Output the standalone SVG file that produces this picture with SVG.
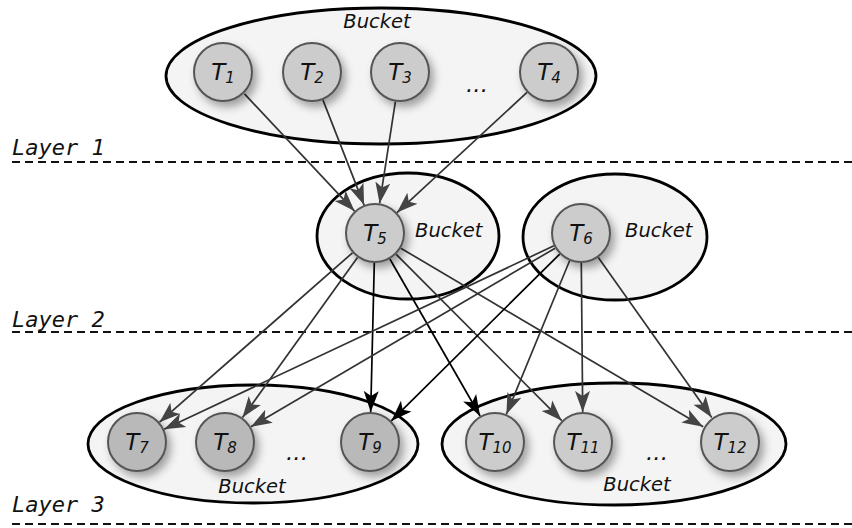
<svg xmlns="http://www.w3.org/2000/svg" width="852" height="528" viewBox="0 0 852 528">
  <style>
    .bucket { fill: #f4f4f4; stroke: #000; stroke-width: 2.8; }
    .node circle { fill: #cccccc; stroke: #555; stroke-width: 2; filter: url(#shadow); }
    .node.dark circle { fill: #b9b9b9; }
    .lbl { font-family: "DejaVu Sans", "Liberation Sans", sans-serif; font-style: italic; fill: #111; }
    .tl { font-size: 23px; text-anchor: middle; }
    .sub { font-size: 15px; }
    .bk { font-size: 19.5px; }
    .dots { font-size: 23px; }
    .layer { font-family: "DejaVu Sans Mono", "Liberation Mono", monospace; font-style: italic; font-size: 22px; fill: #111; }
    .sep { stroke: #111; stroke-width: 2; stroke-dasharray: 8 5; }
    .edge { stroke: #333; stroke-width: 1.7; fill: none; marker-end: url(#arrow); }
    .edge.strong { stroke: #000; marker-end: url(#arrowBlack); }
  </style>
  <defs>
    <filter id="shadow" x="-50%" y="-50%" width="200%" height="200%">
      <feDropShadow dx="4" dy="5" stdDeviation="4" flood-color="#000" flood-opacity="0.35"/>
    </filter>
    <marker id="arrow" markerUnits="userSpaceOnUse" markerWidth="22" markerHeight="18" refX="21" refY="9" orient="auto">
      <path d="M0,1.5 L21,9 L0,16.5 L5,9 Z" fill="#444"/>
    </marker>
    <marker id="arrowBlack" markerUnits="userSpaceOnUse" markerWidth="22" markerHeight="18" refX="21" refY="9" orient="auto">
      <path d="M0,1.5 L21,9 L0,16.5 L5,9 Z" fill="#000"/>
    </marker>
  </defs>

  <rect width="852" height="528" fill="#fff"/>

  <!-- layer separators -->
  <g id="layers">
    <text class="layer" x="12" y="155">Layer 1</text>
    <line class="sep" x1="12" y1="162" x2="852" y2="162"/>
    <text class="layer" x="12" y="327">Layer 2</text>
    <line class="sep" x1="12" y1="332" x2="852" y2="332"/>
    <text class="layer" x="12" y="512">Layer 3</text>
    <line class="sep" x1="12" y1="524" x2="852" y2="524"/>
  </g>

  <!-- buckets -->
  <g id="bucket-top">
    <ellipse class="bucket" cx="381" cy="76" rx="215" ry="68"/>
    <text class="lbl bk" x="377" y="28" text-anchor="middle">Bucket</text>
    <text class="lbl dots" x="477" y="92" text-anchor="middle">...</text>
  </g>
  <g id="bucket-t5">
    <ellipse class="bucket" cx="408" cy="236" rx="91" ry="63"/>
    <text class="lbl bk" x="415" y="237">Bucket</text>
  </g>
  <g id="bucket-t6">
    <ellipse class="bucket" cx="615" cy="237" rx="92" ry="63"/>
    <text class="lbl bk" x="625" y="237">Bucket</text>
  </g>
  <g id="bucket-left">
    <ellipse class="bucket" cx="253" cy="444" rx="165" ry="59"/>
    <text class="lbl bk" x="252" y="493" text-anchor="middle">Bucket</text>
    <text class="lbl dots" x="297" y="460" text-anchor="middle">...</text>
  </g>
  <g id="bucket-right">
    <ellipse class="bucket" cx="614" cy="444" rx="172" ry="61"/>
    <text class="lbl bk" x="637" y="491" text-anchor="middle">Bucket</text>
    <text class="lbl dots" x="657" y="460" text-anchor="middle">...</text>
  </g>

  <!-- connectors -->
  <g id="connectors">
    <line class="edge" x1="244.5" y1="93.9" x2="354.5" y2="211.1"/>
    <line class="edge" x1="322.9" y1="99.9" x2="364.1" y2="205.1"/>
    <line class="edge" x1="395.4" y1="101.6" x2="379.6" y2="203.4"/>
    <line class="edge" x1="527" y1="92.4" x2="397" y2="212.6"/>

    <line class="edge" x1="352.5" y1="252.8" x2="159.5" y2="422.2"/>
    <line class="edge" x1="357.5" y1="257.4" x2="242.5" y2="417.6"/>
    <line class="edge strong" x1="374.3" y1="263" x2="370.7" y2="412"/>
    <line class="edge strong" x1="389.9" y1="259" x2="480.1" y2="416"/>
    <line class="edge" x1="396.2" y1="254.3" x2="561.8" y2="420.7"/>
    <line class="edge" x1="400.8" y1="248.2" x2="703.2" y2="426.8"/>

    <line class="edge" x1="553.9" y1="245.8" x2="164.1" y2="429.2"/>
    <line class="edge" x1="555.1" y1="248.2" x2="250.9" y2="426.8"/>
    <line class="edge strong" x1="559.7" y1="254.1" x2="391.3" y2="420.9"/>
    <line class="edge" x1="569.6" y1="260.7" x2="506.4" y2="414.3"/>
    <line class="edge" x1="581.3" y1="263" x2="582.7" y2="412"/>
    <line class="edge" x1="598.3" y1="257.5" x2="711.7" y2="417.5"/>
  </g>

  <!-- tasks -->
  <g id="T1" class="node"><circle cx="223" cy="72" r="29"/><text class="lbl tl" x="223" y="80">T<tspan class="sub" dy="2.5">1</tspan></text></g>
  <g id="T2" class="node"><circle cx="312" cy="72" r="29"/><text class="lbl tl" x="312" y="80">T<tspan class="sub" dy="2.5">2</tspan></text></g>
  <g id="T3" class="node"><circle cx="400" cy="72" r="29"/><text class="lbl tl" x="400" y="80">T<tspan class="sub" dy="2.5">3</tspan></text></g>
  <g id="T4" class="node"><circle cx="549" cy="72" r="29"/><text class="lbl tl" x="549" y="80">T<tspan class="sub" dy="2.5">4</tspan></text></g>

  <g id="T5" class="node"><circle cx="375" cy="233" r="29"/><text class="lbl tl" x="375" y="241">T<tspan class="sub" dy="2.5">5</tspan></text></g>
  <g id="T6" class="node"><circle cx="581" cy="233" r="29"/><text class="lbl tl" x="581" y="241">T<tspan class="sub" dy="2.5">6</tspan></text></g>

  <g id="T7" class="node dark"><circle cx="137" cy="442" r="29"/><text class="lbl tl" x="137" y="450">T<tspan class="sub" dy="2.5">7</tspan></text></g>
  <g id="T8" class="node dark"><circle cx="225" cy="442" r="29"/><text class="lbl tl" x="225" y="450">T<tspan class="sub" dy="2.5">8</tspan></text></g>
  <g id="T9" class="node dark"><circle cx="370" cy="442" r="29"/><text class="lbl tl" x="370" y="450">T<tspan class="sub" dy="2.5">9</tspan></text></g>

  <g id="T10" class="node"><circle cx="495" cy="442" r="29"/><text class="lbl tl" x="495" y="450">T<tspan class="sub" dy="2.5">10</tspan></text></g>
  <g id="T11" class="node"><circle cx="583" cy="442" r="29"/><text class="lbl tl" x="583" y="450">T<tspan class="sub" dy="2.5">11</tspan></text></g>
  <g id="T12" class="node"><circle cx="730" cy="442" r="29"/><text class="lbl tl" x="730" y="450">T<tspan class="sub" dy="2.5">12</tspan></text></g>
</svg>
